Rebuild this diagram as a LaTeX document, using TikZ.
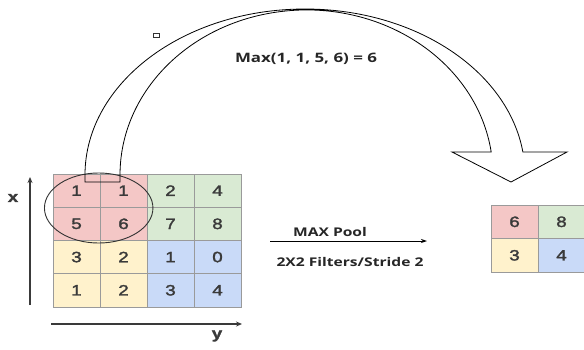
\documentclass[tikz,border=0pt]{standalone}
\usepackage{fontspec}
\setmainfont{Liberation Sans}
\newfontfamily\numfont[FakeStretch=1.25,FakeBold=2]{Liberation Sans}
\newfontfamily\lblfont[FakeStretch=1.3]{Open Sans}
\usetikzlibrary{arrows.meta,shapes.geometric}
\definecolor{cpink}{HTML}{F4C7C6}
\definecolor{cgreen}{HTML}{D9EAD3}
\definecolor{cyellow}{HTML}{FFF2CC}
\definecolor{cblue}{HTML}{C9DAF8}
\definecolor{gridc}{HTML}{9A9A9A}
\definecolor{txt}{HTML}{3A3A3A}
\tikzset{
  cell/.style={draw=gridc, line width=0.8pt, minimum width=47pt, minimum height=33.3pt,
    inner sep=0pt, text=txt, font=\numfont\fontsize{15}{15}\selectfont},
  axis/.style={draw=txt, line width=1.3pt, -{Stealth[length=6pt,width=5pt]}},
  lbl/.style={font=\lblfont\bfseries\fontsize{12}{12}\selectfont, text=black!85},
}
\begin{document}
\begin{tikzpicture}[x=1pt,y=-1pt]
\useasboundingbox (0,0) rectangle (584,349);
% left grid
\foreach \r/\row in {0/{1,1,2,4},1/{5,6,7,8},2/{3,2,1,0},3/{1,2,3,4}}{
  \foreach \v [count=\c from 0] in \row {
    \pgfmathtruncatemacro{\q}{(\r>1)*2+(\c>1)}
    \ifcase\q \def\fc{cpink}\or \def\fc{cgreen}\or \def\fc{cyellow}\else \def\fc{cblue}\fi
    \node[cell, fill=\fc] (L\r\c) at ({53+23.5+47*\c},{174+16.65+33.2*\r}) {\v};
  }
}
% right grid
\node[cell, fill=cpink]   (R00) at (514.5,221.8) {6};
\node[cell, fill=cgreen]  (R01) at (561.5,221.8) {8};
\node[cell, fill=cyellow] (R10) at (514.5,255.3) {3};
\node[cell, fill=cblue]   (R11) at (561.5,255.3) {4};
% ellipse around the 2x2 window
\node[draw=black!80, line width=0.9pt, ellipse, minimum width=108.5pt, minimum height=70pt, inner sep=0pt] (win) at (98.7,208) {};
% axes
\coordinate (xa0) at (30,305); \coordinate (xa1) at (30,177);
\coordinate (ya0) at (51,324); \coordinate (ya1) at (242,324);
\draw[axis] (xa0) -- (xa1);
\draw[axis] (ya0) -- (ya1);
\node[font=\numfont\bfseries\fontsize{15}{15}\selectfont, text=txt] (xl) at (13,198) {x};
\node[font=\numfont\bfseries\fontsize{15}{15}\selectfont, text=txt] (yl) at (217,336) {y};
% max pool arrow
\coordinate (mp0) at (270,241); \coordinate (mp1) at (427,241);
\draw[line width=0.9pt, -{Stealth[length=6pt,width=4pt]}] (mp0) -- (mp1);
\node[lbl] (mpl) at (330,232) {MAX Pool};
\node[lbl] (fil) at (350,262) {2X2 Filters/Stride 2};
% curved arrow
\draw[line width=0.8pt, line join=miter]
  (85,182) -- (85,175) arc[start angle=180, end angle=352, x radius=220, y radius=166]
  -- (567,152) -- (511,182) -- (452,152) -- (491.2,152)
  arc[start angle=352, end angle=180, x radius=186.5, y radius=165]
  -- (120,182) -- cycle;
\node[lbl, font=\lblfont\bfseries\fontsize{13}{13}\selectfont] (maxl) at (306,59) {Max(1, 1, 5, 6) = 6};
% small square
\node[draw=black!80, line width=0.7pt, minimum width=6pt, minimum height=4.5pt, inner sep=0pt] (sq) at (156,35.5) {};
\end{tikzpicture}
\end{document}
